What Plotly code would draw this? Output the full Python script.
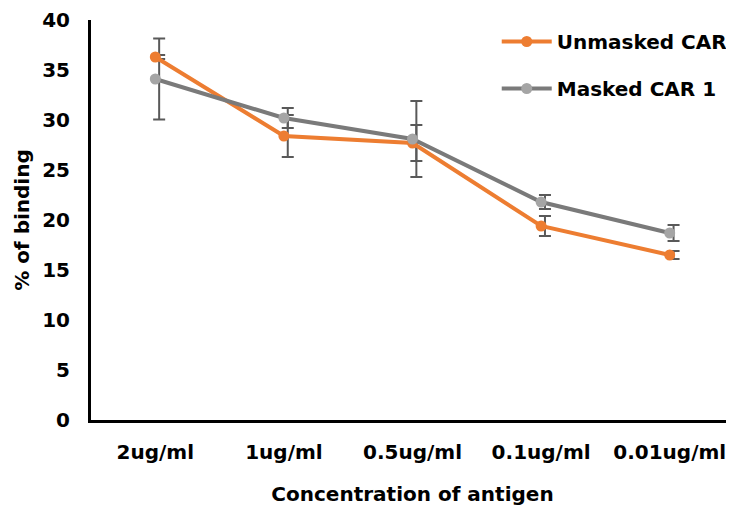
import plotly.graph_objects as go

categories = ["2ug/ml", "1ug/ml", "0.5ug/ml", "0.1ug/ml", "0.01ug/ml"]
unmasked = [36.3, 28.4, 27.7, 19.4, 16.5]
unmasked_err = [0.2, 2.1, 1.8, 1.0, 0.4]
masked = [34.1, 30.2, 28.1, 21.8, 18.7]
masked_err = [4.05, 1.0, 3.8, 0.7, 0.8]

ORANGE = "#ED7D31"
GRAY_LINE = "#7A7A7A"
GRAY_MARK = "#A5A5A5"
ERR = "#595959"
FONT = "DejaVu Sans"

xpos = list(range(len(categories)))
err_shift = 0.03  # error bars sit slightly right of the points in the reference
xerr = [x + err_shift for x in xpos]

fig = go.Figure()

for vals, errs in ((unmasked, unmasked_err), (masked, masked_err)):
    fig.add_trace(go.Scatter(
        x=xerr, y=vals, mode="markers",
        marker=dict(size=1, opacity=0),
        error_y=dict(type="data", array=errs, visible=True, color=ERR,
                     thickness=2, width=6),
        showlegend=False, hoverinfo="skip"))

fig.add_trace(go.Scatter(
    x=xpos, y=unmasked, mode="lines+markers", name="Unmasked CAR",
    legendgroup="a",
    line=dict(color=ORANGE, width=4),
    marker=dict(color=ORANGE, size=11)))
fig.add_trace(go.Scatter(
    x=xpos, y=masked, mode="lines+markers", name="Masked CAR 1",
    legendgroup="b",
    line=dict(color=GRAY_LINE, width=4),
    marker=dict(color=GRAY_MARK, size=11)))

# the page body adds an 8px offset, so margins compensate for it
fig.update_layout(
    width=734, height=511,
    margin=dict(l=83, r=8, t=12, b=99, autoexpand=False),
    plot_bgcolor="white", paper_bgcolor="white",
    font=dict(family=FONT, size=20, color="black", weight=700),
    showlegend=True,
    legend=dict(x=0.631, y=0.995, xanchor="left", yanchor="top",
                traceorder="grouped", tracegroupgap=18,
                font=dict(family=FONT, size=20, color="black", weight=700),
                bgcolor="rgba(0,0,0,0)", itemwidth=50),
    xaxis=dict(range=[-0.5, 4.5], tickmode="array", tickvals=xpos,
               ticktext=categories, showgrid=False, zeroline=False,
               showline=True, linecolor="black", linewidth=3,
               ticks="", ticklabelstandoff=12,
               tickfont=dict(family=FONT, size=20, weight=700),
               title=dict(text="Concentration of antigen", standoff=24,
                          font=dict(family=FONT, size=20, weight=700))),
    yaxis=dict(range=[0, 40], tickvals=[0, 5, 10, 15, 20, 25, 30, 35, 40],
               showgrid=False, zeroline=False,
               showline=True, linecolor="black", linewidth=3,
               ticks="", ticklabelstandoff=14,
               tickfont=dict(family=FONT, size=20, weight=700),
               title=dict(text="% of binding", standoff=8,
                          font=dict(family=FONT, size=20, weight=700))),
)

fig.write_html("out.html")
